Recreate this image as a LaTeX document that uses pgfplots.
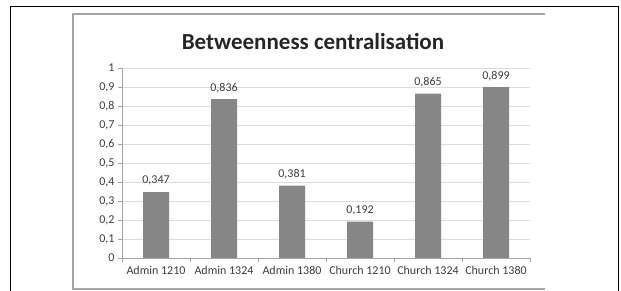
\documentclass[border=0pt]{standalone}
\usepackage{fontspec}
\setmainfont{Carlito}
\usepackage{pgfplots}
\pgfplotsset{compat=1.18}
\definecolor{barc}{RGB}{134,134,134}
\definecolor{txt}{RGB}{60,60,60}
\definecolor{axc}{RGB}{165,165,165}
\definecolor{gridc}{RGB}{220,220,220}
\begin{document}
\begin{tikzpicture}[x=1pt,y=1pt]
\useasboundingbox (0,0) rectangle (621,291);
\draw[black, line width=1pt] (10,0) -- (10,284) -- (618,284) -- (618,0);
\draw[axc, line width=1.3pt] (545,277) -- (73,277) -- (73,2) -- (545,2);
\node[font=\fontsize{23}{27}\selectfont\bfseries, text=black!85] at (313,249) {Betweenness centralisation};
\begin{axis}[
  at={(122pt,33pt)}, anchor=south west,
  scale only axis, width=408pt, height=190pt,
  xmin=-0.5, xmax=5.5, ymin=0, ymax=1,
  axis lines=left, axis line style={-, draw=axc, line width=0.8pt},
  ybar, bar width=26pt,
  xtick={0,1,2,3,4,5},
  xticklabels={Admin 1210,Admin 1324,Admin 1380,Church 1210,Church 1324,Church 1380},
  major x tick style={draw=none},
  minor xtick={-0.5,0.5,1.5,2.5,3.5,4.5,5.5},
  minor x tick style={draw=axc, line width=0.8pt},
  ytick={0,0.1,0.2,0.3,0.4,0.5,0.6,0.7,0.8,0.9,1},
  y tick style={draw=axc, line width=0.8pt},
  tick align=outside, major tick length=4pt, minor tick length=4pt,
  ymajorgrids, grid style={draw=gridc, line width=0.8pt},
  ticklabel style={font=\fontsize{12}{14}\selectfont, text=txt},
  /pgf/number format/assume math mode=true,
  yticklabel style={/pgf/number format/use comma, /pgf/number format/fixed},
  xticklabel style={yshift=-1pt},
  nodes near coords={\pgfmathprintnumber[fixed,fixed zerofill,precision=3,use comma,assume math mode=true]{\pgfplotspointmeta}},
  every node near coord/.append style={font=\fontsize{12}{14}\selectfont, text=txt, yshift=3pt},
]
\addplot[fill=barc, draw=none] coordinates {(0,0.347) (1,0.836) (2,0.381) (3,0.192) (4,0.865) (5,0.899)};
\end{axis}
\end{tikzpicture}
\end{document}
